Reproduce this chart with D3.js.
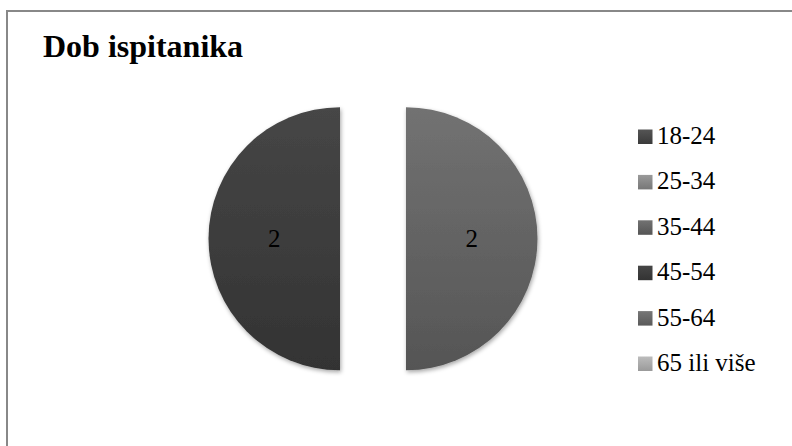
<!DOCTYPE html>
<html>

<head>
    <meta charset="utf-8">
    <title>Dob ispitanika</title>
    <script src="https://d3js.org/d3.v7.min.js"></script>
    <style>
        body {
            margin: 0;
            background: #fff;
        }
    </style>
</head>

<body>
    <div id="chart"></div>

    <script>
        const categories = ["18-24", "25-34", "35-44", "45-54", "55-64", "65 ili više"];
        const values = [0, 0, 2, 2, 0, 0];
        const colorsTop = ["#555555", "#9a9a9a", "#727272", "#464646", "#777777", "#bcbcbc"];
        const colorsBottom = ["#3a3a3a", "#777777", "#555555", "#333333", "#5a5a5a", "#9a9a9a"];

        const width = 792, height = 446;
        const cx = 373, cy = 238.7, radius = 131.5, explode = 33;
        const serif = "'Liberation Serif', Tinos, 'Noto Serif', 'DejaVu Serif', FreeSerif, 'Times New Roman', serif";

        const svg = d3.select("#chart")
            .append("svg")
            .attr("width", width)
            .attr("height", height)
            .style("font-family", serif);

        const defs = svg.append("defs");

        categories.forEach((c, i) => {
            const g = defs.append("linearGradient")
                .attr("id", "grad" + i)
                .attr("x1", 0).attr("y1", 0)
                .attr("x2", 0).attr("y2", 1);
            g.append("stop").attr("offset", "0%").attr("stop-color", colorsTop[i]);
            g.append("stop").attr("offset", "100%").attr("stop-color", colorsBottom[i]);
        });

        defs.append("filter")
            .attr("id", "shadow")
            .attr("x", "-20%").attr("y", "-20%")
            .attr("width", "140%").attr("height", "140%")
            .append("feDropShadow")
            .attr("dx", 1).attr("dy", 2)
            .attr("stdDeviation", 2)
            .attr("flood-color", "#000")
            .attr("flood-opacity", 0.35);

        // chart frame (only top and left edges are visible)
        svg.append("rect")
            .attr("x", 7)
            .attr("y", 11)
            .attr("width", width + 20)
            .attr("height", height + 20)
            .attr("fill", "none")
            .attr("stroke", "#888")
            .attr("stroke-width", 2);

        // title
        svg.append("text")
            .attr("x", 43)
            .attr("y", 57)
            .style("font-size", "32px")
            .style("font-weight", "bold")
            .text("Dob ispitanika");

        // pie
        const data = categories.map((c, i) => ({ cat: c, value: values[i], idx: i }));

        const pie = d3.pie()
            .value(d => d.value)
            .sort(null);

        const arc = d3.arc()
            .innerRadius(0)
            .outerRadius(radius);

        const labelArc = d3.arc()
            .innerRadius(radius * 1.0)
            .outerRadius(radius * 1.0);

        const slices = pie(data).filter(d => d.value > 0);

        const sliceG = svg.append("g")
            .attr("transform", `translate(${cx},${cy})`)
            .selectAll("g")
            .data(slices)
            .join("g")
            .attr("transform", d => {
                const mid = (d.startAngle + d.endAngle) / 2;
                return `translate(${Math.sin(mid) * explode},${-Math.cos(mid) * explode})`;
            });

        sliceG.append("path")
            .attr("d", arc)
            .attr("fill", d => `url(#grad${d.data.idx})`)
            .attr("filter", "url(#shadow)");

        sliceG.append("text")
            .attr("transform", d => {
                const c = labelArc.centroid(d);
                return `translate(${c[0] * 0.5},${c[1] * 0.5})`;
            })
            .attr("text-anchor", "middle")
            .attr("dy", "0.35em")
            .style("font-size", "25px")
            .text(d => d.value);

        // legend
        const legend = svg.append("g")
            .attr("transform", "translate(638,144)");

        const rowH = 45.4;

        const item = legend.selectAll("g")
            .data(categories)
            .join("g")
            .attr("transform", (d, i) => `translate(0,${i * rowH})`);

        item.append("rect")
            .attr("x", 0)
            .attr("y", -14.5)
            .attr("width", 14.5)
            .attr("height", 14.5)
            .attr("fill", (d, i) => `url(#grad${i})`);

        item.append("text")
            .attr("x", 19)
            .attr("y", 0)
            .style("font-size", "25px")
            .text(d => d);
    </script>
</body>

</html>
